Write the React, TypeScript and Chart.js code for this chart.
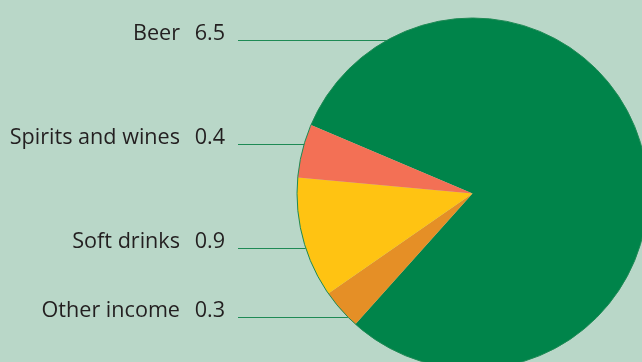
import React, { useEffect, useRef } from "react";
import { Chart, registerables } from "chart.js";

Chart.register(...registerables);

// Data (display order, top to bottom)
const categories = ["Beer", "Spirits and wines", "Soft drinks", "Other income"];
const values = [6.5, 0.4, 0.9, 0.3];
const valueLabels = ["6.5", "0.4", "0.9", "0.3"];
const colors = ["#00844a", "#f37055", "#ffc312", "#e58f26"];

// Pie is drawn clockwise: Beer, Other income, Soft drinks, Spirits and wines
const pieOrder = [0, 3, 2, 1];

// Layout
const W = 642;
const H = 362;
const BG = "#b9d7c8";
const LINE_COLOR = "#1e8a55";
const TEXT_COLOR = "#231f20";
const labelBaselines = [40, 144, 248, 317];
const nameRight = 180;
const valueRight = 225;
const lineStart = 238;

const labelPlugin = {
  id: "leaderLabels",
  beforeDraw(chart: any) {
    const ctx = chart.ctx;
    ctx.save();
    ctx.fillStyle = BG;
    ctx.fillRect(0, 0, chart.width, chart.height);
    ctx.restore();
  },
  afterDatasetsDraw(chart: any) {
    const ctx = chart.ctx;
    const meta = chart.getDatasetMeta(0);
    const arc = meta.data[0];
    if (!arc) return;
    const cx = arc.x;
    const cy = arc.y;
    const r = arc.outerRadius;
    ctx.save();
    // outer outline
    ctx.beginPath();
    ctx.arc(cx, cy, r, 0, Math.PI * 2);
    ctx.strokeStyle = LINE_COLOR;
    ctx.lineWidth = 1;
    ctx.stroke();
    // labels and leader lines
    ctx.font = "21.6px 'Open Sans'";
    ctx.fillStyle = TEXT_COLOR;
    ctx.textBaseline = "alphabetic";
    categories.forEach((name, i) => {
      const y = labelBaselines[i];
      ctx.textAlign = "right";
      ctx.fillText(name, nameRight, y);
      ctx.fillText(valueLabels[i], valueRight, y);
      const dy = y - cy;
      const xEnd = cx - Math.sqrt(Math.max(r * r - dy * dy, 0));
      ctx.beginPath();
      ctx.moveTo(lineStart, Math.round(y) + 0.5);
      ctx.lineTo(xEnd, Math.round(y) + 0.5);
      ctx.strokeStyle = LINE_COLOR;
      ctx.lineWidth = 1;
      ctx.stroke();
    });
    ctx.restore();
  },
};

export default function App() {
  const ref = useRef<HTMLCanvasElement | null>(null);

  useEffect(() => {
    document.body.style.margin = "0";
    document.body.style.background = BG;
    const canvas = ref.current;
    if (!canvas) return;
    const chart = new Chart(canvas, {
      type: "pie",
      data: {
        labels: pieOrder.map((i) => categories[i]),
        datasets: [
          {
            data: pieOrder.map((i) => values[i]),
            backgroundColor: pieOrder.map((i) => colors[i]),
            borderWidth: 0,
            radius: 175.5,
            clip: false,
          } as any,
        ],
      },
      options: {
        responsive: false,
        animation: false,
        events: [],
        rotation: 293,
        layout: { padding: { left: 303, right: 0, top: 25, bottom: 0 } },
        plugins: {
          legend: { display: false },
          tooltip: { enabled: false },
        },
      },
      plugins: [labelPlugin],
    });
    return () => chart.destroy();
  }, []);

  return (
    <div style={{ width: W, height: H, overflow: "hidden" }}>
      <canvas ref={ref} width={W} height={H} style={{ display: "block" }} />
    </div>
  );
}
